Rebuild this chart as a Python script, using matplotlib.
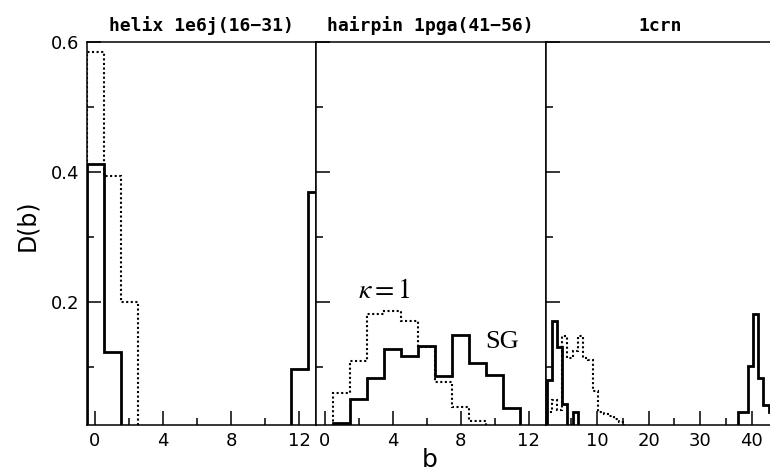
import numpy as np
import matplotlib
matplotlib.use("Agg")
import matplotlib.pyplot as plt

# ---------------- data ----------------
titles = ["helix 1e6j(16\u221231)", "hairpin 1pga(41\u221256)", "1crn"]

# left panel (helix), bins centred on b = 0..13
left_b = np.arange(0, 14)
left_sg = [0.412, 0.122, 0, 0, 0, 0, 0, 0, 0, 0, 0, 0, 0.096, 0.369]
left_k1 = [0.584, 0.394, 0.200, 0, 0, 0, 0, 0, 0, 0, 0, 0, 0, 0]

# middle panel (hairpin), bins centred on b = 0..13
mid_b = np.arange(0, 14)
mid_sg = [0, 0.014, 0.051, 0.082, 0.128, 0.117, 0.132, 0.086, 0.149, 0.105, 0.088, 0.037, 0, 0]
mid_k1 = [0, 0.059, 0.109, 0.181, 0.186, 0.171, 0.131, 0.076, 0.038, 0.017, 0, 0, 0, 0]

# right panel (1crn), bins start at b = 0.25, 1.25, ...
right_start = np.arange(0, 45) + 0.25
right_sg = [0.080, 0.171, 0.130, 0.042, 0, 0.031] + [0] * 31 + \
           [0.031, 0.031, 0.101, 0.181, 0.083, 0.041, 0.031]
right_k1 = [0.031, 0.049, 0.033, 0.147, 0.113, 0.125, 0.147, 0.113, 0.110,
            0.062, 0.031, 0.028, 0.024, 0.020, 0.015] + [0] * 29

xlims = [(-0.5, 13), (-0.5, 13), (0, 44.5)]
major_ticks = [[0, 4, 8, 12], [0, 4, 8, 12], [10, 20, 30, 40]]
minor_ticks = [[2, 6, 10], [2, 6, 10], [5, 15, 25, 35]]

# ---------------- figure ----------------
plt.rcParams['mathtext.fontset'] = 'stix'
fig = plt.figure(figsize=(7.7, 4.73), dpi=100)
W, H = 770.0, 473.0
lefts = [86.5, 316.0, 545.5]
pw = 229.5
bot = 1 - 425 / H
ht = (425 - 42) / H

axes = []
for i in range(3):
    ax = fig.add_axes([lefts[i] / W, bot, pw / W, ht])
    axes.append(ax)


def edges_from_centres(c):
    c = np.asarray(c, float)
    return np.append(c - 0.5, c[-1] + 0.5)


dot = (0, (1, 1.2))
solid_lw = 2.0
dot_lw = 1.5

# left
e = edges_from_centres(left_b)
axes[0].stairs(left_k1, e, baseline=0, color='black', lw=dot_lw, linestyle=dot)
axes[0].stairs(left_sg, e, baseline=0, color='black', lw=solid_lw)
# middle
e = edges_from_centres(mid_b)
axes[1].stairs(mid_k1, e, baseline=0, color='black', lw=dot_lw, linestyle=dot)
axes[1].stairs(mid_sg, e, baseline=0, color='black', lw=solid_lw)
# right
e = np.append(right_start[:len(right_sg)], right_start[len(right_sg) - 1] + 1)
axes[2].stairs(right_sg, e, baseline=0, color='black', lw=solid_lw)
e = np.append(right_start[:len(right_k1)], right_start[len(right_k1) - 1] + 1)
axes[2].stairs(right_k1, e, baseline=0, color='black', lw=dot_lw, linestyle=dot)

for i, ax in enumerate(axes):
    ax.set_xlim(*xlims[i])
    ax.set_ylim(0.0103, 0.6)
    ax.set_xticks(major_ticks[i])
    ax.set_xticks(minor_ticks[i], minor=True)
    ax.set_yticks([0.2, 0.4, 0.6])
    ax.set_yticks([0.1, 0.3, 0.5], minor=True)
    ax.tick_params(which='both', direction='in', top=False, right=False,
                   width=1.1, color='black')
    ax.tick_params(which='major', length=10)
    ax.tick_params(which='minor', length=5)
    ax.tick_params(axis='x', labelsize=13, pad=5)
    ax.tick_params(axis='y', labelsize=13, pad=5)
    for s in ax.spines.values():
        s.set_linewidth(1.1)
    if i == 0:
        ax.set_yticklabels(['0.2', '0.4', '0.6'])
    else:
        ax.set_yticklabels([])
    ax.set_title(titles[i], family='DejaVu Sans Mono', fontweight='bold',
                 fontsize=13, pad=8)

axes[1].text(2.0, 0.206, r'$\kappa=1$', fontsize=20, ha='left', va='baseline')
axes[1].text(9.45, 0.129, 'SG', family='Liberation Serif', fontsize=19,
             ha='left', va='baseline')

fig.text(27.5 / W, 1 - 225 / H, 'D(b)', rotation=90, ha='center', va='center',
         fontsize=17)
fig.text(430 / W, 1.5 / H, 'b', ha='center', va='bottom', fontsize=18)

fig.savefig('out.png', dpi=100)
